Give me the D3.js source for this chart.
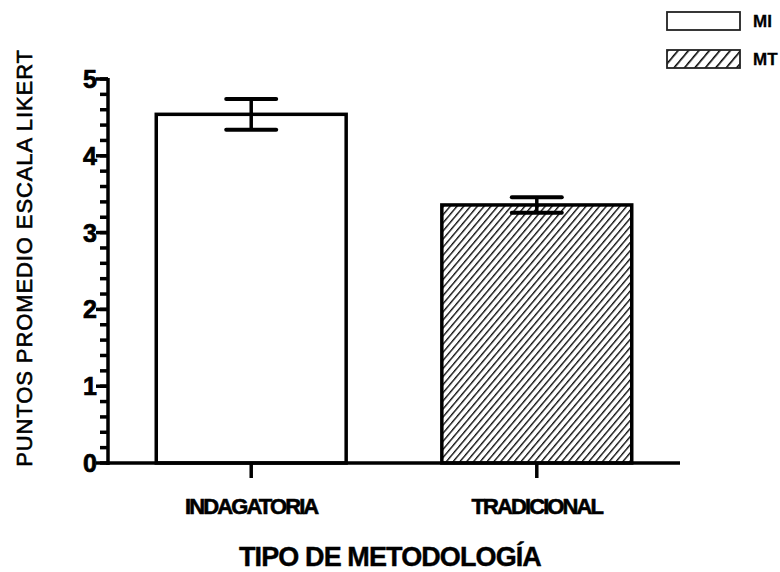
<!DOCTYPE html>
<html>
<head>
<meta charset="utf-8">
<script src="https://cdn.jsdelivr.net/npm/d3@7"></script>
<style>
  body { margin: 0; background: #fff; }
  svg { display: block; font-family: "Liberation Sans", Arial, sans-serif; }
  .tick-label { font-weight: bold; font-size: 25px; }
  .cat-label { font-weight: bold; font-size: 22px; letter-spacing: -1.9px; }
</style>
</head>
<body>
<div id="chart"></div>
<script>
// data
const categories = ["INDAGATORIA", "TRADICIONAL"];
const series = ["MI", "MT"];
const means = [4.54, 3.36];
const errors = [0.2, 0.1];
const yTicks = [0, 1, 2, 3, 4, 5];
const yMinorTicks = d3.range(0, 5.01, 0.2);

class BarChart {
  constructor(_config) {
    this.config = {
      parentElement: _config.parentElement,
      containerWidth: 780,
      containerHeight: 572,
      margin: { top: 79, right: 100, bottom: 109, left: 108 },
      capWidth: 50,
    };
    this.initVis();
  }

  initVis() {
    let vis = this;
    vis.width = vis.config.containerWidth - vis.config.margin.left - vis.config.margin.right;
    vis.height = vis.config.containerHeight - vis.config.margin.top - vis.config.margin.bottom;

    vis.svg = d3.select(vis.config.parentElement)
      .append("svg")
      .attr("width", vis.config.containerWidth)
      .attr("height", vis.config.containerHeight);

    const defs = vis.svg.append("defs");
    // bar hatch
    const p1 = defs.append("pattern")
      .attr("id", "hatch")
      .attr("patternUnits", "userSpaceOnUse")
      .attr("width", 5.2).attr("height", 5.2)
      .attr("patternTransform", "rotate(40)");
    p1.append("rect").attr("width", 5.2).attr("height", 5.2).attr("fill", "#fff");
    p1.append("line").attr("x1", 0.5).attr("y1", 0).attr("x2", 0.5).attr("y2", 5.2)
      .attr("stroke", "#111").attr("stroke-width", 1.8);
    // legend hatch (coarser)
    const p2 = defs.append("pattern")
      .attr("id", "hatch-legend")
      .attr("patternUnits", "userSpaceOnUse")
      .attr("width", 8).attr("height", 8)
      .attr("patternTransform", "rotate(40)");
    p2.append("rect").attr("width", 8).attr("height", 8).attr("fill", "#fff");
    p2.append("line").attr("x1", 0.5).attr("y1", 0).attr("x2", 0.5).attr("y2", 8)
      .attr("stroke", "#000").attr("stroke-width", 2.2);

    vis.chart = vis.svg.append("g")
      .attr("transform", `translate(${vis.config.margin.left},${vis.config.margin.top})`);

    vis.xScale = d3.scaleBand()
      .domain(categories)
      .range([0, vis.width])
      .paddingInner(0.335)
      .paddingOuter(0.169);

    vis.yScale = d3.scaleLinear()
      .domain([0, 5])
      .range([vis.height, 0]);

    this.updateVis();
  }

  updateVis() {
    const vis = this;
    const fills = ["#fff", "url(#hatch)"];

    // bars
    vis.chart.selectAll(".bar")
      .data(means)
      .join("rect")
      .attr("class", "bar")
      .attr("x", (d, i) => vis.xScale(categories[i]))
      .attr("y", d => vis.yScale(d))
      .attr("width", vis.xScale.bandwidth())
      .attr("height", d => vis.height - vis.yScale(d))
      .attr("fill", (d, i) => fills[i])
      .attr("stroke", "#000")
      .attr("stroke-width", 3.5);

    // error bars
    const err = vis.chart.selectAll(".err")
      .data(means)
      .join("g")
      .attr("class", "err")
      .attr("transform", (d, i) => `translate(${vis.xScale(categories[i]) + vis.xScale.bandwidth() / 2},0)`);
    err.append("line")
      .attr("y1", (d, i) => vis.yScale(d + errors[i]))
      .attr("y2", (d, i) => vis.yScale(d - errors[i]))
      .attr("stroke", "#000").attr("stroke-width", 3.5);
    [1, -1].forEach(s => {
      err.append("line")
        .attr("x1", -vis.config.capWidth / 2)
        .attr("x2", vis.config.capWidth / 2)
        .attr("y1", (d, i) => vis.yScale(d + s * errors[i]))
        .attr("y2", (d, i) => vis.yScale(d + s * errors[i]))
        .attr("stroke", "#000").attr("stroke-width", 4)
        .attr("stroke-linecap", "round");
    });

    // y axis
    const yAxis = vis.chart.append("g");
    yAxis.append("line")
      .attr("y1", -1).attr("y2", vis.height + 2)
      .attr("stroke", "#000").attr("stroke-width", 3.5);
    yAxis.selectAll(".minor")
      .data(yMinorTicks)
      .join("line")
      .attr("x1", -8).attr("x2", 0)
      .attr("y1", d => vis.yScale(d)).attr("y2", d => vis.yScale(d))
      .attr("stroke", "#000").attr("stroke-width", 3.5);
    yAxis.selectAll(".major")
      .data(yTicks)
      .join("line")
      .attr("x1", -12).attr("x2", 0)
      .attr("y1", d => vis.yScale(d)).attr("y2", d => vis.yScale(d))
      .attr("stroke", "#000").attr("stroke-width", 3.5);
    yAxis.selectAll(".tick-label")
      .data(yTicks)
      .join("text")
      .attr("class", "tick-label")
      .attr("x", -11)
      .attr("y", d => vis.yScale(d))
      .attr("dy", "0.36em")
      .attr("text-anchor", "end")
      .attr("stroke", "#000").attr("stroke-width", 0.7)
      .text(d => d);

    // x axis
    const xAxis = vis.chart.append("g").attr("transform", `translate(0,${vis.height})`);
    xAxis.append("line")
      .attr("x1", -1.5).attr("x2", vis.width)
      .attr("stroke", "#000").attr("stroke-width", 3.5);
    xAxis.selectAll(".xtick")
      .data(categories)
      .join("line")
      .attr("x1", d => vis.xScale(d) + vis.xScale.bandwidth() / 2)
      .attr("x2", d => vis.xScale(d) + vis.xScale.bandwidth() / 2)
      .attr("y1", 0).attr("y2", 15)
      .attr("stroke", "#000").attr("stroke-width", 3.5);
    xAxis.selectAll(".cat-label")
      .data(categories)
      .join("text")
      .attr("class", "cat-label")
      .attr("x", d => vis.xScale(d) + vis.xScale.bandwidth() / 2)
      .attr("y", 51)
      .attr("text-anchor", "middle")
      .attr("stroke", "#000").attr("stroke-width", 0.6)
      .text(d => d);

    // axis titles
    vis.svg.append("text")
      .attr("x", 390)
      .attr("y", 566)
      .attr("text-anchor", "middle")
      .attr("font-weight", "bold")
      .attr("font-size", 27)
      .attr("letter-spacing", -0.9)
      .attr("stroke", "#000").attr("stroke-width", 0.4)
      .text("TIPO DE METODOLOGÍA");
    vis.svg.append("text")
      .attr("transform", "translate(32,258) rotate(-90)")
      .attr("text-anchor", "middle")
      .attr("font-size", 22)
      .attr("letter-spacing", 0.9)
      .attr("stroke", "#000").attr("stroke-width", 0.6)
      .text("PUNTOS PROMEDIO ESCALA LIKERT");

    // legend
    const legendFills = ["#fff", "url(#hatch-legend)"];
    const legend = vis.svg.append("g").attr("transform", "translate(667,12)");
    const items = legend.selectAll("g")
      .data(series)
      .join("g")
      .attr("transform", (d, i) => `translate(0,${i * 38})`);
    items.append("rect")
      .attr("width", 73).attr("height", 18)
      .attr("fill", (d, i) => legendFills[i])
      .attr("stroke", "#222").attr("stroke-width", 1.8);
    items.append("text")
      .attr("x", 86).attr("y", 9)
      .attr("dy", "0.36em")
      .attr("font-weight", "bold")
      .attr("font-size", 17)
      .attr("stroke", "#000").attr("stroke-width", 0.3)
      .text(d => d);
  }
}

new BarChart({ parentElement: "#chart" });
</script>
</body>
</html>
